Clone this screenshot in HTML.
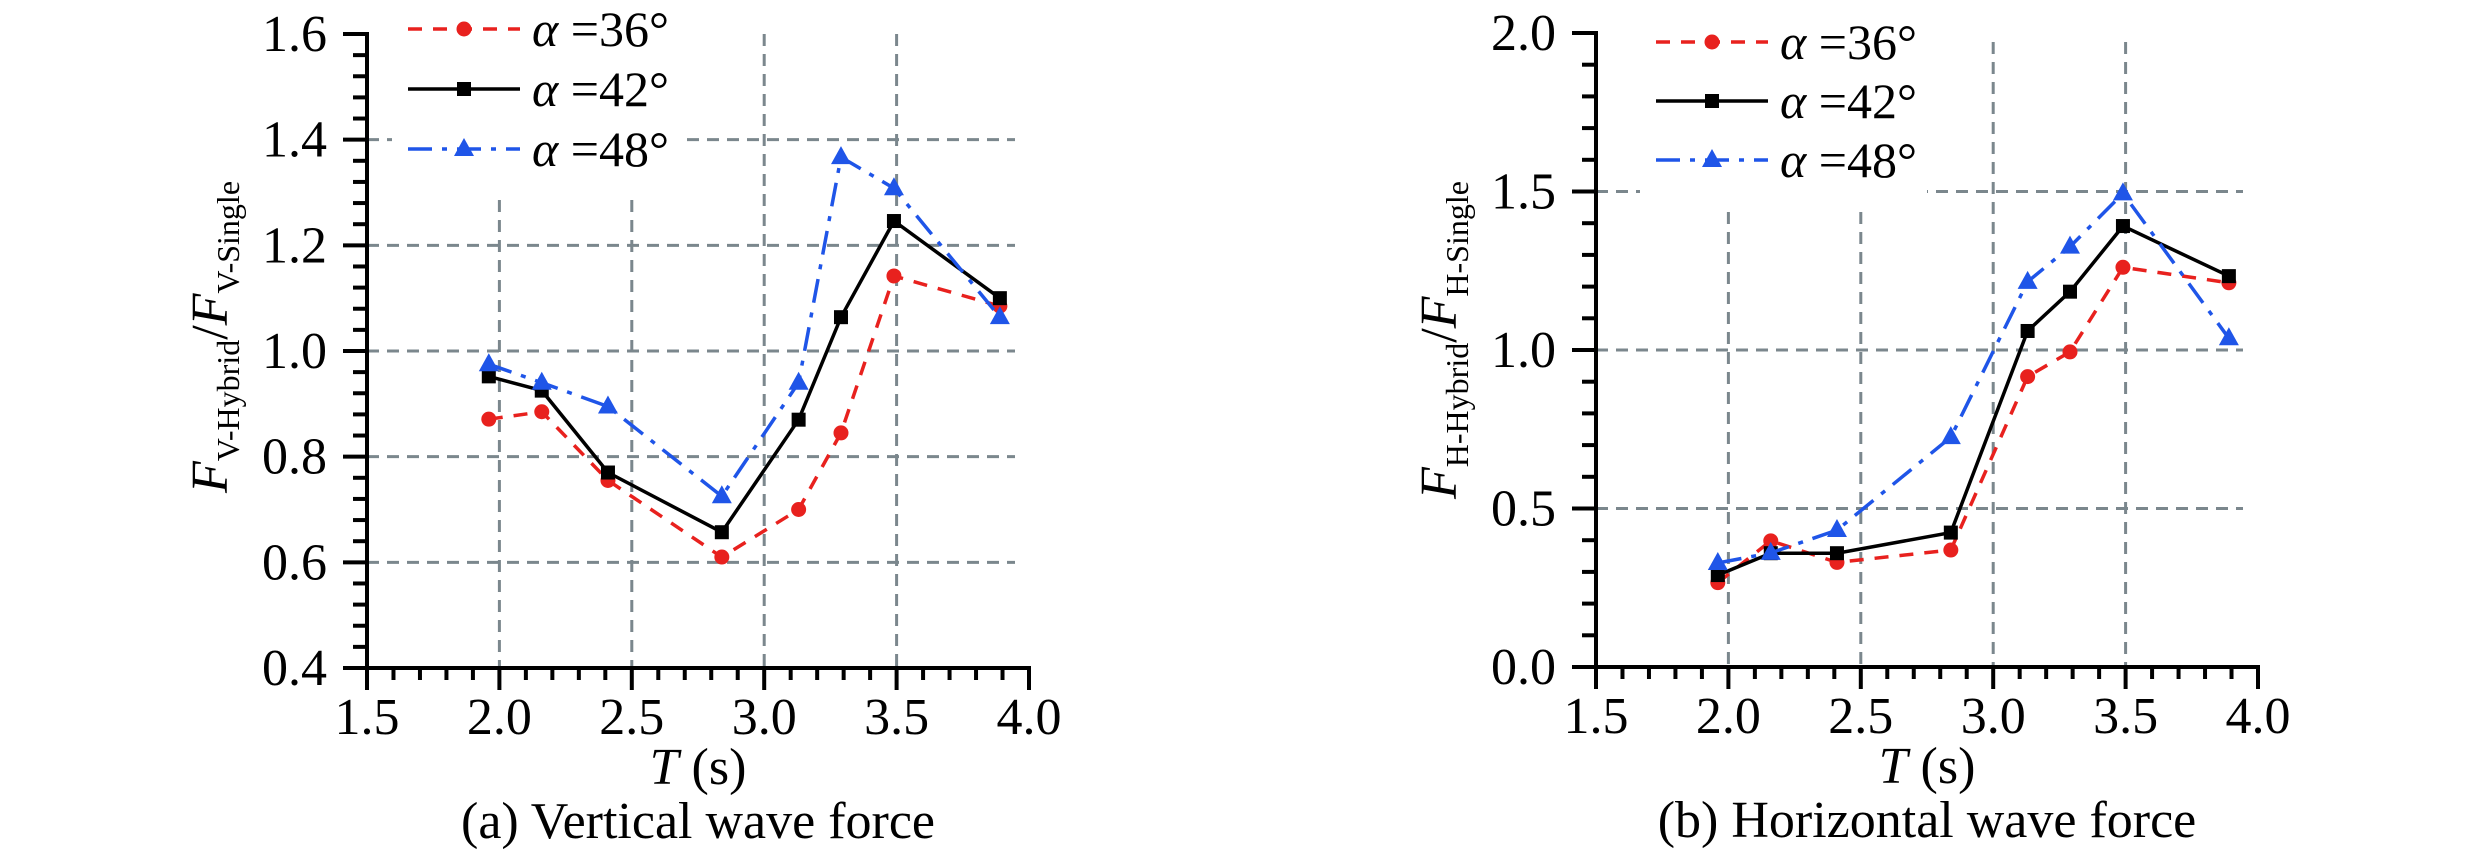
<!DOCTYPE html>
<html><head><meta charset="utf-8"><style>
html,body{margin:0;padding:0;background:#fff}
svg{display:block}
text{font-family:"Liberation Serif",serif;fill:#000}
</style></head><body>
<svg id="fig" width="2481" height="855" viewBox="0 0 2481 855" xmlns="http://www.w3.org/2000/svg"></svg>
<script>
const periods = [1.96, 2.16, 2.41, 2.84, 3.13, 3.29, 3.49, 3.89];
const vert36 = [0.871, 0.885, 0.755, 0.61, 0.70, 0.845, 1.142, 1.085];
const vert42 = [0.952, 0.925, 0.77, 0.657, 0.87, 1.064, 1.246, 1.10];
const vert48 = [0.975, 0.94, 0.895, 0.725, 0.94, 1.367, 1.308, 1.064];
const horiz36 = [0.266, 0.398, 0.33, 0.369, 0.916, 0.994, 1.261, 1.212];
const horiz42 = [0.29, 0.359, 0.359, 0.424, 1.06, 1.184, 1.391, 1.233];
const horiz48 = [0.328, 0.36, 0.432, 0.725, 1.215, 1.326, 1.494, 1.037];
const xTicks = ["1.5","2.0","2.5","3.0","3.5","4.0"];
const vTicks = ["0.4","0.6","0.8","1.0","1.2","1.4","1.6"];
const hTicks = ["0.0","0.5","1.0","1.5","2.0"];
const seriesNames = ["α =36°","α =42°","α =48°"];

const NS="http://www.w3.org/2000/svg";
const svg=document.getElementById('fig');
function mk(tag,attrs,parent){const e=document.createElementNS(NS,tag);for(const k in attrs)e.setAttribute(k,attrs[k]);(parent||svg).appendChild(e);return e;}

const styles=[
 {color:"#e8211e",dash:"14,11",marker:"circle"},
 {color:"#000000",dash:"",marker:"square"},
 {color:"#1f55e8",dash:"24,10,5,10",marker:"triangle"}
];

function panel(cfg){
  const g=mk('g',{});
  
  
  const xMin=1.5,xMax=4.0;
  const X=v=>cfg.x0+(v-xMin)/(xMax-xMin)*(cfg.x1-cfg.x0);
  const Y=v=>cfg.y0-(v-cfg.yMin)/(cfg.yMax-cfg.yMin)*(cfg.y0-cfg.y1);
  const gridC="#7b878d";
  // grid
  const gg=mk('g',{},g);
  
  
  cfg.hGrid.forEach(v=>{
    const l=mk('line',{x1:cfg.x0,x2:cfg.gridRight,y1:Y(v),y2:Y(v),stroke:gridC,'stroke-width':3,'stroke-dasharray':'12,8'},gg);
    
    
  });
  [2.0,2.5].forEach(v=>{
    const l=mk('line',{x1:X(v),x2:X(v),y1:cfg.vGridTopLow,y2:cfg.y0,stroke:gridC,'stroke-width':3,'stroke-dasharray':'12,8'},gg);
    
    
  });
  [3.0,3.5].forEach(v=>{
    const l=mk('line',{x1:X(v),x2:X(v),y1:cfg.vGridTop,y2:cfg.y0,stroke:gridC,'stroke-width':3,'stroke-dasharray':'12,8'},gg);
    
    
  });
  // legend background
  const lb=mk('rect',{x:cfg.legX-16,y:0,width:cfg.legW,height:cfg.legH,fill:'#fff'},g);
  
  
  // series
  cfg.series.forEach((vals,si)=>{
    const st=styles[si];
    const sg=mk('g',{},g);
    
    
    const pts=periods.map((p,i)=>X(p).toFixed(1)+','+Y(vals[i]).toFixed(1)).join(' ');
    const pl=mk('polyline',{points:pts,fill:'none',stroke:st.color,'stroke-width':3.5,'stroke-dasharray':st.dash,'stroke-linejoin':'miter'},sg);
    
    
    periods.forEach((p,i)=>{
      const m=marker(st,X(p),Y(vals[i]),sg);
      
      
    });
  });
  // axes
  const ax=mk('g',{stroke:'#000','stroke-width':4},g);
  
  
  mk('line',{x1:cfg.x0,x2:cfg.x0,y1:cfg.y1-2,y2:cfg.y0+2},ax);
  mk('line',{x1:cfg.x0-24,x2:cfg.x1+2,y1:cfg.y0,y2:cfg.y0},ax);
  // y ticks
  const ny=cfg.yTicks.length-1;
  for(let i=0;i<ny*cfg.yMinor;i++){
    if(i%cfg.yMinor===0) continue;
    const v=cfg.yMin+(cfg.yMax-cfg.yMin)*i/(ny*cfg.yMinor);
    mk('line',{x1:cfg.x0-14,x2:cfg.x0,y1:Y(v),y2:Y(v)},ax);
  }
  cfg.yTicks.forEach((t,i)=>{
    const v=cfg.yMin+(cfg.yMax-cfg.yMin)*i/ny;
    mk('line',{x1:cfg.x0-24,x2:cfg.x0,y1:Y(v),y2:Y(v)},ax);
    const tx=mk('text',{x:cfg.x0-40,y:Y(v)+17,'font-size':52,'text-anchor':'end'},g);
    tx.textContent=t;
    
    
  });
  // x ticks
  for(let i=0;i<=25;i++){
    const v=xMin+i*0.1;
    const major=i%5===0;
    mk('line',{x1:X(v),x2:X(v),y1:cfg.y0,y2:cfg.y0+(major?22:12)},ax);
  }
  xTicks.forEach((t,i)=>{
    const v=xMin+i*0.5;
    const tx=mk('text',{x:X(v),y:cfg.y0+66,'font-size':52,'text-anchor':'middle'},g);
    tx.textContent=t;
    
    
  });
  const cx=(cfg.x0+cfg.x1)/2;
  const xt=mk('text',{x:cx,y:cfg.y0+116,'font-size':52,'text-anchor':'middle'},g);
  xt.innerHTML='<tspan font-style="italic">T</tspan> (s)';
  
  
  const st=mk('text',{x:cx,y:cfg.y0+170,'font-size':52,'text-anchor':'middle'},g);
  st.textContent=cfg.subtitle;
  
  
  // y title
  const yt=mk('text',{x:0,y:0,'font-size':52,'text-anchor':'middle',transform:`translate(${cfg.x0-140},${cfg.yTitleY}) rotate(-90)`},g);
  yt.innerHTML=`<tspan font-style="italic">F</tspan><tspan font-size="32" dy="12">${cfg.k}-Hybrid</tspan><tspan dy="-12">/</tspan><tspan font-style="italic">F</tspan><tspan font-size="32" dy="12">${cfg.k}-Single</tspan>`;
  
  
  // legend
  seriesNames.forEach((n,i)=>{
    const s=styles[i];
    const ly=cfg.legY+i*cfg.legStep;
    const le=mk('g',{},g);
    
    
    mk('line',{x1:cfg.legX,x2:cfg.legX+112,y1:ly,y2:ly,stroke:s.color,'stroke-width':3.5,'stroke-dasharray':s.dash},le);
    marker(s,cfg.legX+56,ly,le);
    const t=mk('text',{x:cfg.legX+124,y:ly+17,'font-size':50},le);
    t.innerHTML='<tspan font-style="italic">α</tspan> =' + n.split('=')[1];
  });
}
function marker(st,x,y,p){
  if(st.marker==='circle') return mk('circle',{cx:x,cy:y,r:7.5,fill:st.color},p);
  if(st.marker==='square') return mk('rect',{x:x-7,y:y-7,width:14,height:14,fill:st.color},p);
  return mk('polygon',{points:`${x},${y-11} ${x+10},${y+7} ${x-10},${y+7}`,fill:st.color},p);
}
panel({name:'vertical-force-panel',k:'V',x0:367,x1:1029,y0:668,y1:34,yMin:0.4,yMax:1.6,yTicks:vTicks,yMinor:5,
  hGrid:[0.6,0.8,1.0,1.2,1.4],gridRight:1015,vGridTop:34,vGridTopLow:200,
  legX:408,legY:29,legStep:60,legW:290,legH:196,
  series:[vert36,vert42,vert48],subtitle:'(a) Vertical wave force',yTitleY:337});
panel({name:'horizontal-force-panel',k:'H',x0:1596,x1:2258,y0:667,y1:33,yMin:0,yMax:2.0,yTicks:hTicks,yMinor:5,
  hGrid:[0.5,1.0,1.5],gridRight:2243,vGridTop:42,vGridTopLow:212,
  legX:1656,legY:42,legStep:59,legW:287,legH:205,
  series:[horiz36,horiz42,horiz48],subtitle:'(b) Horizontal wave force',yTitleY:340});
</script>
</body></html>
